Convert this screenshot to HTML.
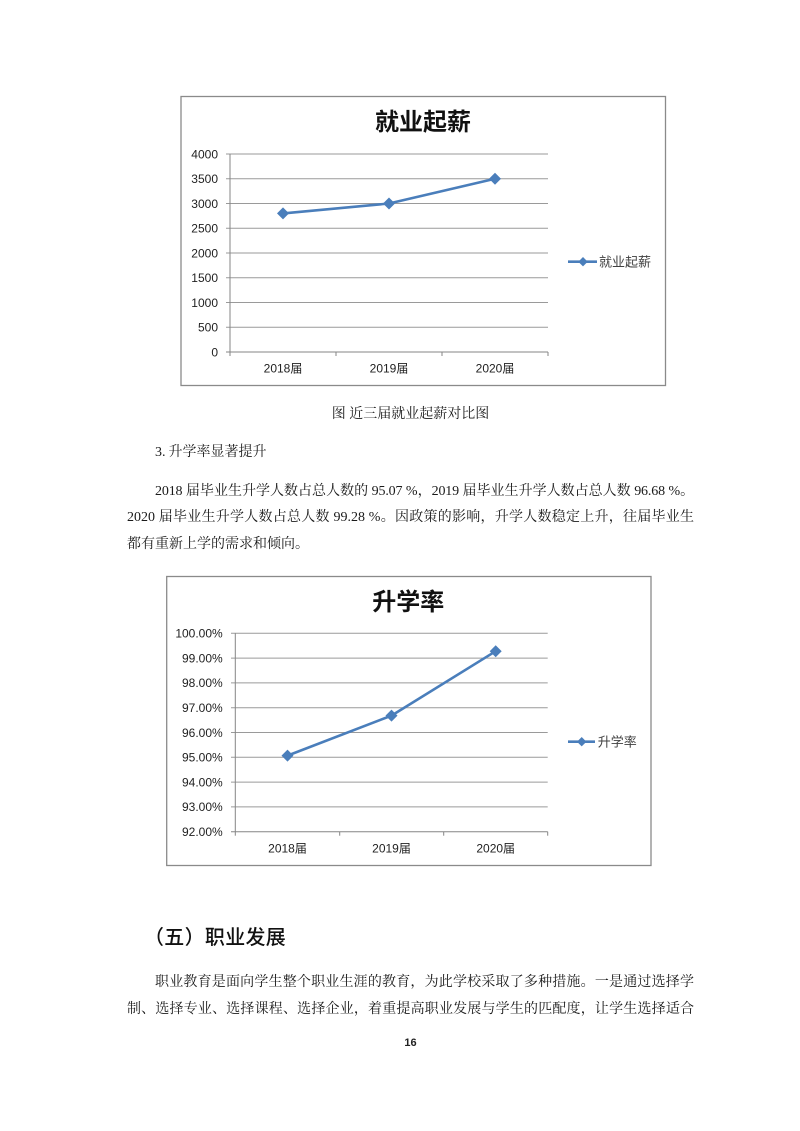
<!DOCTYPE html>
<html><head><meta charset="utf-8">
<style>
html,body{margin:0;padding:0;background:#fff;}
body{width:800px;height:1131px;position:relative;overflow:hidden;}
.t{position:absolute;font-family:"Liberation Serif","Noto Serif CJK SC",serif;font-size:14px;line-height:20px;color:#1a1a1a;white-space:nowrap;}
.j{text-align:justify;text-align-last:justify;white-space:normal;overflow:hidden;height:20px;}
svg{position:absolute;left:0;top:0;}
</style></head><body>
<svg width="800" height="1131" viewBox="0 0 800 1131" xmlns="http://www.w3.org/2000/svg">
<g font-family="Liberation Sans, Noto Sans CJK SC, sans-serif">
<!-- Chart 1 -->
<rect x="181" y="96.5" width="484.5" height="289" fill="#fff" stroke="#8a8a8a" stroke-width="1.3"/>
<text x="423" y="130" font-size="24" font-weight="600" text-anchor="middle" fill="#111">就业起薪</text>
<g stroke="#9a9a9a" stroke-width="1">
<line x1="226" y1="154" x2="548" y2="154"/>
<line x1="226" y1="178.75" x2="548" y2="178.75"/>
<line x1="226" y1="203.5" x2="548" y2="203.5"/>
<line x1="226" y1="228.25" x2="548" y2="228.25"/>
<line x1="226" y1="253" x2="548" y2="253"/>
<line x1="226" y1="277.75" x2="548" y2="277.75"/>
<line x1="226" y1="302.5" x2="548" y2="302.5"/>
<line x1="226" y1="327.25" x2="548" y2="327.25"/>
</g>
<g stroke="#868686" stroke-width="1">
<line x1="226" y1="352" x2="548" y2="352"/>
<line x1="230" y1="154" x2="230" y2="352"/>
<line x1="230" y1="352" x2="230" y2="356"/>
<line x1="336" y1="352" x2="336" y2="356"/>
<line x1="442" y1="352" x2="442" y2="356"/>
<line x1="548" y1="352" x2="548" y2="356"/>
</g>
<g font-size="12" fill="#222" text-anchor="end">
<text x="218" y="158.3">4000</text>
<text x="218" y="183">3500</text>
<text x="218" y="207.8">3000</text>
<text x="218" y="232.5">2500</text>
<text x="218" y="257.3">2000</text>
<text x="218" y="282">1500</text>
<text x="218" y="306.8">1000</text>
<text x="218" y="331.5">500</text>
<text x="218" y="356.3">0</text>
</g>
<g font-size="12" fill="#222" text-anchor="middle">
<text x="283" y="372.7">2018届</text>
<text x="389" y="372.7">2019届</text>
<text x="495" y="372.7">2020届</text>
</g>
<polyline points="283,213.4 389,203.5 495,178.75" fill="none" stroke="#4a7ebb" stroke-width="2.6" stroke-linejoin="round"/>
<g fill="#4a7ebb">
<polygon points="283,207.4 289,213.4 283,219.4 277,213.4"/>
<polygon points="389,197.5 395,203.5 389,209.5 383,203.5"/>
<polygon points="495,172.75 501,178.75 495,184.75 489,178.75"/>
</g>
<line x1="568" y1="261.7" x2="597" y2="261.7" stroke="#4a7ebb" stroke-width="2.6"/>
<polygon points="583,257 587.7,261.7 583,266.4 578.3,261.7" fill="#4a7ebb"/>
<text x="599" y="266.5" font-size="13" fill="#404040">就业起薪</text>

<!-- Chart 2 -->
<rect x="166.7" y="576.5" width="484.3" height="289" fill="#fff" stroke="#8a8a8a" stroke-width="1.3"/>
<text x="408.3" y="610" font-size="24" font-weight="600" text-anchor="middle" fill="#111">升学率</text>
<g stroke="#9a9a9a" stroke-width="1">
<line x1="231" y1="633.3" x2="547.7" y2="633.3"/>
<line x1="231" y1="658.1" x2="547.7" y2="658.1"/>
<line x1="231" y1="682.9" x2="547.7" y2="682.9"/>
<line x1="231" y1="707.7" x2="547.7" y2="707.7"/>
<line x1="231" y1="732.5" x2="547.7" y2="732.5"/>
<line x1="231" y1="757.3" x2="547.7" y2="757.3"/>
<line x1="231" y1="782.1" x2="547.7" y2="782.1"/>
<line x1="231" y1="806.9" x2="547.7" y2="806.9"/>
</g>
<g stroke="#868686" stroke-width="1">
<line x1="231" y1="831.7" x2="547.7" y2="831.7"/>
<line x1="235.3" y1="633.3" x2="235.3" y2="831.7"/>
<line x1="235.3" y1="831.7" x2="235.3" y2="835.7"/>
<line x1="339.7" y1="831.7" x2="339.7" y2="835.7"/>
<line x1="443.7" y1="831.7" x2="443.7" y2="835.7"/>
<line x1="547.7" y1="831.7" x2="547.7" y2="835.7"/>
</g>
<g font-size="12" fill="#222" text-anchor="end">
<text x="222.7" y="637.6">100.00%</text>
<text x="222.7" y="662.4">99.00%</text>
<text x="222.7" y="687.2">98.00%</text>
<text x="222.7" y="712">97.00%</text>
<text x="222.7" y="736.8">96.00%</text>
<text x="222.7" y="761.6">95.00%</text>
<text x="222.7" y="786.4">94.00%</text>
<text x="222.7" y="811.2">93.00%</text>
<text x="222.7" y="836">92.00%</text>
</g>
<g font-size="12" fill="#222" text-anchor="middle">
<text x="287.5" y="852.7">2018届</text>
<text x="391.5" y="852.7">2019届</text>
<text x="495.7" y="852.7">2020届</text>
</g>
<polyline points="287.5,755.6 391.5,715.6 495.7,651.2" fill="none" stroke="#4a7ebb" stroke-width="2.6" stroke-linejoin="round"/>
<g fill="#4a7ebb">
<polygon points="287.5,749.6 293.5,755.6 287.5,761.6 281.5,755.6"/>
<polygon points="391.5,709.6 397.5,715.6 391.5,721.6 385.5,715.6"/>
<polygon points="495.7,645.2 501.7,651.2 495.7,657.2 489.7,651.2"/>
</g>
<line x1="568" y1="741.7" x2="595" y2="741.7" stroke="#4a7ebb" stroke-width="2.6"/>
<polygon points="581.7,737 586.4,741.7 581.7,746.4 577,741.7" fill="#4a7ebb"/>
<text x="597.7" y="746.5" font-size="13" fill="#404040">升学率</text>
</g>
</svg>

<div class="t" style="left:127px;width:567px;top:405px;text-align:center;">图 近三届就业起薪对比图</div>
<div class="t" style="left:155px;top:443px;">3.<span style="margin-left:3px">升学率显著提升</span></div>
<div class="t j" style="left:155px;width:539px;top:482px;letter-spacing:-0.15px;">2018 届毕业生升学人数占总人数的 95.07 %，2019 届毕业生升学人数占总人数 96.68 %。</div>
<div class="t j" style="left:127px;width:567px;top:508px;">2020 届毕业生升学人数占总人数 99.28 %。因政策的影响，升学人数稳定上升，往届毕业生</div>
<div class="t" style="left:127px;top:535px;">都有重新上学的需求和倾向。</div>

<div class="t" style="left:144px;top:926px;font-family:'Liberation Sans','Noto Sans CJK SC',sans-serif;font-size:20px;line-height:24px;font-weight:500;color:#111;letter-spacing:0.3px;">（五）职业发展</div>

<div class="t j" style="left:155px;width:539px;top:973px;">职业教育是面向学生整个职业生涯的教育，为此学校采取了多种措施。一是通过选择学</div>
<div class="t j" style="left:127px;width:567px;top:1000px;">制、选择专业、选择课程、选择企业，着重提高职业发展与学生的匹配度，让学生选择适合</div>

<div class="t" style="left:400px;width:21px;top:1035px;text-align:center;font-family:'Liberation Sans',sans-serif;font-size:11px;line-height:16px;font-weight:bold;color:#222;">16</div>
</body></html>
